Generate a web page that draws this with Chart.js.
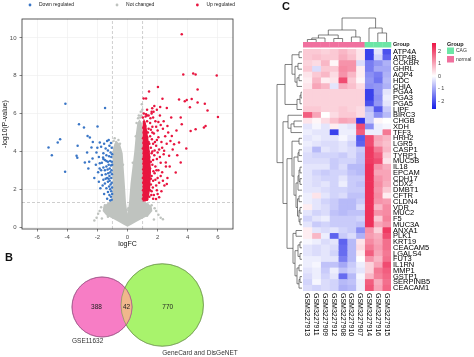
<!DOCTYPE html>
<html><head><meta charset="utf-8">
<script src="https://cdn.jsdelivr.net/npm/chart.js@4.4.0/dist/chart.umd.min.js"></script>
<style>
html,body{margin:0;padding:0;background:#fff;width:474px;height:357px;overflow:hidden;position:relative;}
canvas{position:absolute;}
#cA{left:0;top:0;width:242px;height:252px;}
#cB{left:0;top:250px;width:258px;height:107px;}
#cC{left:260px;top:0;width:214px;height:357px;}
</style></head><body>
<canvas id="cA" width="242" height="252"></canvas>
<canvas id="cB" width="258" height="107"></canvas>
<canvas id="cC" width="214" height="357"></canvas>
<script>
// ================= DATA =================
// Panel A: volcano plot  [logFC, -log10(P-value)]
const volcanoLegend = ['Down regulated', 'Not changed', 'Up regulated'];
const xTickVals = [-6, -4, -2, 0, 2, 4, 6];
const yTickVals = [0, 2, 4, 6, 8, 10];
const fcCut = [-1, 1];
const pCut = 1.3;
const downPts = [
 [-4.12,6.52],[-1.49,6.3],[-3.22,5.44],[-2.89,5.26],[-1.99,5.32],[-2.65,4.82],[-2.5,4.73],[-4.47,4.65],
 [-4.63,4.47],[-5.24,4.21],[-5.02,3.8],[-4.14,2.93],[-3.31,4.3],[-3.38,3.77],[-3.33,3.67],[-2.68,3.95],
 [-2.39,4.21],[-1.84,4.47],[-2.32,3.63],[-2.83,3.42],[-2.54,3.45],[-2.06,3.95],[-1.62,3.68],[-1.84,3.38],
 [-1.05,1.45],[-1.1,1.6],[-1.02,1.75],[-1.2,1.7],[-1.08,1.9],[-1.15,2.0],[-1.3,1.85],[-1.03,2.1],
 [-1.12,2.25],[-1.22,2.15],[-1.4,2.05],[-1.05,2.35],[-1.18,2.45],[-1.3,2.4],[-1.5,2.3],[-1.08,2.6],
 [-1.2,2.7],[-1.35,2.6],[-1.6,2.5],[-1.03,2.8],[-1.14,2.9],[-1.28,2.85],[-1.45,2.8],[-1.7,2.75],
 [-1.06,3.0],[-1.18,3.1],[-1.32,3.05],[-1.5,3.0],[-1.1,3.25],[-1.25,3.3],[-1.4,3.2],[-1.6,3.15],
 [-1.85,3.1],[-1.04,3.45],[-1.15,3.5],[-1.3,3.45],[-1.5,3.55],[-1.7,3.4],[-1.08,3.7],[-1.22,3.75],
 [-1.4,3.8],[-1.6,3.9],[-1.12,3.95],[-1.3,4.05],[-1.05,4.2],[-1.2,4.3],[-1.45,4.15],[-1.75,4.25],
 [-1.9,3.7],[-1.95,2.9],[-1.65,2.2],[-1.35,1.5],[-1.55,1.75],[-1.8,2.05],[-2.1,3.3],[-2.2,2.6],
 [-1.02,3.85],[-1.1,4.45],[-1.35,4.55],[-2.0,4.2],[-1.15,1.4],[-1.25,2.55],[-1.02,3.3],[-1.4,3.5],
 [-1.6,3.6],[-1.75,3.0],[-1.45,2.55],[-1.9,2.4],[-1.25,4.6],[-2.3,4.5],[-2.6,3.1],[-1.55,4.4]
];
const upPts = [
 [3.6,10.19],[3.7,8.07],[4.36,8.12],[4.52,8.07],[5.92,8.01],[4.65,7.28],[2.02,7.4],[1.43,7.17],
 [2.32,6.79],[1.07,6.8],[1.23,6.8],[3.42,6.75],[3.8,6.65],[3.93,6.72],[4.26,6.77],[4.65,6.59],
 [5.13,6.52],[4.14,6.33],[5.31,6.17],[2.17,6.35],[2.61,6.3],[1.64,6.28],[1.73,6.1],[1.6,6.0],
 [3.53,5.79],[6.0,5.82],[1.23,5.96],[1.3,5.9],[3.09,4.38],[3.42,4.47],[4.19,5.08],[4.52,5.17],
 [5.07,5.26],[5.18,5.35],[3.9,4.16],[3.53,3.42],[3.2,2.89],[2.61,2.28],[2.1,1.58],[1.89,1.49],
 [2.76,3.77],[2.54,3.42],[2.43,4.03],[2.94,4.82],[2.65,5.35],[3.6,5.44],
 [1.02,1.5],[1.05,1.7],[1.1,1.55],[1.15,1.8],[1.03,1.95],[1.2,2.0],[1.08,2.15],[1.25,2.2],
 [1.04,2.35],[1.14,2.45],[1.3,2.4],[1.02,2.6],[1.18,2.65],[1.35,2.7],[1.07,2.85],[1.22,2.9],
 [1.4,2.95],[1.04,3.05],[1.15,3.15],[1.3,3.2],[1.5,3.1],[1.06,3.35],[1.2,3.4],[1.38,3.45],
 [1.03,3.6],[1.12,3.7],[1.28,3.65],[1.45,3.7],[1.08,3.9],[1.22,3.95],[1.4,4.0],[1.02,4.15],
 [1.15,4.2],[1.32,4.25],[1.55,4.2],[1.06,4.45],[1.2,4.5],[1.4,4.5],[1.03,4.7],[1.15,4.8],
 [1.3,4.75],[1.5,4.8],[1.08,5.0],[1.25,5.05],[1.05,5.25],[1.18,5.35],[1.4,5.2],[1.1,5.55],
 [1.3,5.6],[1.02,5.8],[1.2,5.85],[1.5,5.5],[1.65,5.3],
 [1.45,1.6],[1.6,1.9],[1.75,1.7],[1.55,2.25],[1.7,2.45],[1.9,2.2],[1.6,2.7],[1.8,2.85],
 [2.0,2.6],[1.65,3.3],[1.85,3.2],[2.05,3.0],[1.7,3.55],[1.95,3.6],[2.2,3.4],[1.6,3.9],
 [1.8,4.05],[2.1,4.1],[1.7,4.4],[1.95,4.6],[2.25,4.5],[1.75,4.95],[2.0,5.1],[1.85,5.6],
 [2.2,5.4],[1.3,1.45],[1.5,1.95],[1.35,2.05],[1.55,2.55],[1.45,3.0],[1.55,3.45],[1.65,4.0],
 [1.25,4.0],[1.45,4.4],[1.62,4.65],[1.35,5.0],[1.55,5.15],[1.7,5.8],[1.4,5.9],[1.9,4.3],
 [2.4,3.85],[2.3,2.9],[2.5,4.8],[2.35,5.2],[2.15,5.9],[1.6,6.1],[1.95,6.2],[2.7,5.0],
 [3.0,4.1],[2.8,3.2],[2.45,2.2],[2.25,1.9],[1.7,1.5],[2.0,1.75],[1.08,6.0],[1.3,6.2],
 [1.58,1.7],[1.68,2.1],[1.85,2.5],[2.1,2.35],[1.72,2.95],[1.92,3.0],[2.15,3.7],[1.78,3.8],
 [2.0,3.95],[2.3,4.2],[1.82,4.5],[2.05,4.75],[1.65,5.0],[1.9,5.3],[2.4,5.6],[2.6,4.4],
 [2.55,3.2],[2.2,2.7],[1.95,1.95],[2.35,2.45],[1.52,5.75],[1.78,6.4],[2.05,5.55],[2.85,4.55],
 [3.25,5.1],[2.9,5.8],[3.3,3.8],[2.65,2.6]
];
const ncPts = [
 [0.88,6.1],[0.95,6.5],[0.92,5.9],[0.98,6.2],[-0.92,4.55],[-0.85,4.7],[-0.6,4.6],[0.75,5.9],
 [0.6,5.5],[-0.98,1.2],[-1.25,1.22],[-1.5,1.15],[-1.75,1.05],[-1.85,0.85],[-1.95,0.7],[-2.05,0.5],
 [-1.7,0.45],[1.1,1.25],[1.35,1.2],[1.6,1.15],[1.8,1.0],[1.9,0.85],[2.05,0.65],[2.2,0.5],
 [1.75,0.4],[-0.3,3.3],[0.35,3.4],[-0.5,4.4],[0.55,4.8],[-0.05,0.9],[0.06,1.0],[-2.2,0.35],
 [2.35,0.42],[-1.3,0.55],[1.3,0.6],[0.7,5.75],[0.85,5.8],[-0.75,4.5]
];
// outline of the dense clouds of points
const ncArea = [
 [0,0.02],[-0.25,0.12],[-0.6,0.28],[-1.0,0.45],[-1.4,0.62],[-1.65,0.85],[-1.6,1.1],[-1.3,1.28],
 [-1.02,1.4],[-0.99,2.4],[-0.99,3.5],[-0.97,4.15],[-0.85,4.45],[-0.65,4.5],[-0.48,4.35],[-0.32,3.9],
 [-0.18,2.3],[-0.1,1.3],[0,0.7],[0.1,1.3],[0.2,2.3],[0.45,4.0],[0.55,4.9],[0.65,5.5],[0.8,5.7],
 [0.95,5.5],[0.99,4.6],[0.99,3.4],[0.99,2.2],[1.02,1.4],[1.3,1.28],[1.6,1.1],[1.65,0.85],
 [1.4,0.62],[1.0,0.45],[0.6,0.28],[0.25,0.12],[0,0.02]
];
const upArea = [
 [1.0,1.35],[1.0,5.4],[1.08,5.75],[1.22,5.5],[1.38,4.7],[1.5,3.8],[1.56,2.9],[1.5,2.0],[1.38,1.45],[1.2,1.35]
];

// Panel B: Venn diagram
const vennSets = ['GSE11632', 'GeneCard and DisGeNET'];
const vennCounts = [388, 42, 770];   // only set 1, both, only set 2

// Panel C: heatmap
const genes = ['ATP4A','ATP4B','CCKBR','GHRL','AQP4','HDC','CHIA','PGA4','PGA3','PGA5','LIPF','BIRC3',
 'CHGB','XDH','TFF3','HRH2','LGR5','CASP1','TYRP1','MUC5B','IL18','EPCAM','CDH17','CDX2','DMBT1','CFTR',
 'CLDN4','VDR','MUC2','F5','MUC3A','ANXA1','PLK1','KRT19','CEACAM5','LGALS4','FUT3','IL1RN','MMP1',
 'GSTP1','SERPINB5','CEACAM1'];
const samples = ['GSM3227913','GSM3227911','GSM3227909','GSM3227912','GSM3227908','GSM3227910',
 'GSM3227907','GSM3227914','GSM3227916','GSM3227915'];
const sampleGroup = ['normal','normal','normal','normal','normal','normal','normal','CAG','CAG','CAG'];
const groupNames = ['CAG', 'normal'];
const legendTicks = [2, 1, 0, -1, -2];
const zRows = [
 [0.6,0.6,0.5,0.6,0.8,0.6,0.3,-2.2,-0.3,-2.0],
 [0.6,0.7,0.6,0.6,0.9,0.7,0.3,-2.2,-0.5,-1.8],
 [0.5,0.4,0.8,0.1,1.2,1.2,-0.4,-1.5,-1.2,-0.9],
 [0.6,-0.4,0.6,0.6,1.3,1.2,0.2,-1.5,-1.0,-1.0],
 [0.3,0.6,0.8,0.4,1.2,0.8,0.2,-1.3,-1.5,-0.9],
 [0.2,0.8,0.2,0.3,2.0,0.6,0.1,-1.2,-1.6,-0.8],
 [0.3,1.0,0.8,-0.3,0.9,0.7,0.4,-1.3,-1.2,-0.9],
 [0.5,0.5,0.5,0.5,0.5,0.5,0.5,-2.2,-1.2,-0.3],
 [0.5,0.5,0.5,0.5,0.5,0.5,0.5,-2.2,-1.3,-0.2],
 [0.5,0.5,0.5,0.5,0.5,0.5,0.5,-2.0,-1.2,-0.3],
 [0.6,0.6,0.5,0.5,0.6,0.5,0.4,-0.8,-1.9,-0.6],
 [1.8,1.0,0.0,0.4,0.6,0.6,0.4,-0.6,-1.3,-0.8],
 [0.3,0.1,0.4,0.7,1.0,0.9,-2.3,-0.6,0.1,0.0],
 [-0.3,-0.1,-0.3,0.2,-0.2,-0.3,2.0,-1.3,-0.2,-0.1],
 [-0.2,-0.3,-0.3,-2.2,-0.2,-0.2,1.8,-0.2,-0.2,1.5],
 [-0.3,-0.2,-0.3,-0.3,-0.1,-0.3,-1.9,2.0,1.0,0.8],
 [-0.2,-0.3,-0.4,-0.4,-0.3,-0.5,-1.8,2.0,0.9,0.7],
 [-0.3,-0.8,-0.3,-0.4,-0.3,-0.4,-0.6,2.2,1.5,0.8],
 [-0.4,-0.5,-0.5,-0.5,-0.6,-0.4,-0.7,2.2,1.8,0.5],
 [-0.4,-0.4,-0.4,-0.6,-0.5,-0.5,-0.7,2.2,2.0,0.3],
 [-0.3,-0.3,-0.3,-0.6,-0.4,-0.8,-0.8,2.3,1.2,0.9],
 [-0.3,-0.5,-0.6,-0.5,-0.5,-0.7,-0.8,2.3,1.0,1.0],
 [-0.3,-0.4,-0.5,-0.5,-0.3,-0.6,-0.6,2.3,1.2,1.0],
 [-0.3,-0.4,-0.3,-0.5,-0.2,-0.6,-0.7,2.3,1.3,0.9],
 [-0.3,-0.3,-0.4,-0.5,-0.5,-0.6,-0.6,2.3,1.2,0.6],
 [-0.2,0.3,-0.3,-0.5,-0.4,-0.7,-0.7,2.3,1.3,0.2],
 [-0.2,-0.3,-0.5,-0.6,-0.8,-0.8,-0.6,2.3,1.2,1.1],
 [0.2,-0.3,-0.4,-0.6,-0.8,-0.8,-0.4,2.3,0.8,1.3],
 [-0.3,-0.5,-0.4,-0.7,-0.8,-0.7,-0.7,2.3,1.2,1.3],
 [-0.5,-0.3,-0.2,-0.6,-0.6,-0.6,-0.5,2.3,0.6,1.4],
 [-0.3,-0.6,-0.5,-0.6,-0.6,-0.6,-0.7,2.3,1.0,1.2],
 [0.2,-0.3,-0.4,-0.3,-0.5,-0.6,-1.3,1.2,0.5,2.2],
 [0.2,0.8,-0.2,-1.8,-0.6,-0.4,-0.9,1.1,0.9,2.0],
 [-0.1,-0.2,-0.4,-0.3,-1.8,-0.8,0.3,1.3,1.0,1.6],
 [-0.3,-0.4,-0.3,-0.4,-1.7,-0.8,0.4,1.5,1.1,1.6],
 [-0.3,-0.4,-0.3,-0.5,-1.7,-0.8,0.2,1.8,1.0,1.5],
 [-0.2,-0.2,-0.3,-0.3,-1.5,-0.8,0.0,1.2,0.8,1.6],
 [-0.2,-0.1,-0.7,-0.7,-1.0,-0.6,-0.2,0.5,1.0,2.0],
 [-0.3,-0.2,-0.6,-0.2,-0.7,-0.5,-0.3,0.5,1.5,1.8],
 [-0.4,-0.2,-0.5,-0.3,-1.7,-0.8,-0.1,0.8,1.4,1.7],
 [-0.5,-0.1,-0.4,-0.5,-0.8,-0.7,-0.2,1.8,0.9,1.6],
 [-0.4,-0.5,-0.4,-0.5,-0.9,-0.8,-0.2,1.9,1.0,1.7]
];
// hclust-style merges (negative = leaf, positive = earlier merge) and heights
const colMerge  = [[-1,-2],[1,-3],[-4,-5],[2,3],[-6,-7],[4,5],[-9,-10],[-8,7],[6,8]];
const colHeight = [2.5, 4, 3.5, 7, 5, 12, 9, 14, 24];
const rowMerge = [[-1,-2],[-3,-4],[-5,-6],[3,-7],[2,4],[1,5],[-8,-9],[7,-10],[8,-11],[6,9],
 [-13,-14],[11,-15],[-12,12],[-16,-17],[-18,-19],[15,-20],[-21,-22],[-23,-24],[17,18],[19,-25],
 [-26,-27],[-28,-29],[-30,-31],[22,23],[21,24],[20,25],[16,26],[14,27],[-32,-33],[-34,-35],
 [-36,-37],[30,31],[-38,-39],[-40,-41],[34,-42],[33,35],[32,36],[29,37],[28,38],[13,39],[10,40]];
const rowHeight = [3,4,3,5,7,10,1,2,5,17, 8,11,14,3,3,4,2,2,3,4, 3,2,2,3,4.5,6,8,10,6,2,
 2,4,3,2,3,5,7,9,15,19,25];

// ================= STYLE / RENDER =================
const FONT = "'Liberation Sans', Arial, Helvetica, sans-serif";
Chart.defaults.font.family = FONT;
Chart.defaults.animation = false;
const COL = {down:'#3a76c6', nc:'#bfc3bf', up:'#e8153f'};
const legendCols = [COL.down, COL.nc, COL.up];
const X_RANGE = [-7, 7], Y_RANGE = [-0.1, 11];
const toXY = a => a.map(p => ({x: p[0], y: p[1]}));

function fillPoly(chart, pts, color) {
  const {ctx, chartArea: ca, scales: {x, y}} = chart;
  ctx.save();
  ctx.beginPath(); ctx.rect(ca.left, ca.top, ca.right - ca.left, ca.bottom - ca.top); ctx.clip();
  ctx.beginPath();
  pts.forEach((p, i) => { const px = x.getPixelForValue(p[0]), py = y.getPixelForValue(p[1]);
    i ? ctx.lineTo(px, py) : ctx.moveTo(px, py); });
  ctx.closePath(); ctx.fillStyle = color; ctx.fill();
  ctx.restore();
}

const volcanoPlugin = {
  id: 'volcanoExtras',
  beforeDatasetDraw(chart, args) {
    const ds = chart.data.datasets[args.index];
    if (ds.cloud) fillPoly(chart, ds.cloud, ds.backgroundColor);
  },
  afterDraw(chart) {
    const {ctx, chartArea: ca} = chart;
    ctx.save();
    ctx.strokeStyle = '#333'; ctx.lineWidth = 0.8;
    ctx.strokeRect(ca.left, ca.top, ca.right - ca.left, ca.bottom - ca.top);
    // legend
    ctx.font = '5px ' + FONT; ctx.textBaseline = 'middle';
    let xx = 30;
    volcanoLegend.forEach((t, i) => {
      ctx.fillStyle = legendCols[i];
      ctx.beginPath(); ctx.arc(xx, 5, 1.4, 0, Math.PI * 2); ctx.fill();
      ctx.fillStyle = '#222'; ctx.fillText(t, xx + 9, 5);
      xx += 9 + ctx.measureText(t).width + 43;
    });
    ctx.restore();
  }
};

const ptStyle = c => ({backgroundColor: c, borderWidth: 0, pointRadius: 1.25, pointHoverRadius: 1.25, showLine: false});
const refLine = d => ({type: 'line', data: d, borderColor: '#9c9c9c', borderWidth: 0.5, borderDash: [3, 2],
  pointRadius: 0, fill: false, showLine: true});

new Chart(document.getElementById('cA'), {
  type: 'scatter',
  data: {datasets: [
    Object.assign({label: volcanoLegend[2], data: toXY(upPts), cloud: upArea}, ptStyle(COL.up)),
    Object.assign({label: volcanoLegend[0], data: toXY(downPts)}, ptStyle(COL.down)),
    Object.assign({label: volcanoLegend[1], data: toXY(ncPts), cloud: ncArea}, ptStyle(COL.nc)),
    ...fcCut.map(v => refLine([{x: v, y: Y_RANGE[0]}, {x: v, y: Y_RANGE[1]}])),
    refLine([{x: X_RANGE[0], y: pCut}, {x: X_RANGE[1], y: pCut}])
  ]},
  options: {
    responsive: false, events: [],
    layout: {padding: {left: 0, right: 9, top: 19, bottom: 0}},
    plugins: {legend: {display: false}, tooltip: {enabled: false}},
    scales: {
      x: {type: 'linear', min: X_RANGE[0], max: X_RANGE[1],
        afterBuildTicks: s => { s.ticks = xTickVals.map(v => ({value: v})); },
        afterFit: s => { s.height = 23; },
        grid: {color: '#ececec', lineWidth: 0.6, tickLength: 2.5, tickColor: '#333', tickWidth: 0.6},
        border: {display: false},
        ticks: {font: {size: 6}, color: '#4d4d4d', padding: 2, maxRotation: 0},
        title: {display: true, text: 'logFC', font: {size: 7}, color: '#111', padding: {top: 0, bottom: 3.5}}},
      y: {type: 'linear', min: Y_RANGE[0], max: Y_RANGE[1],
        afterBuildTicks: s => { s.ticks = yTickVals.map(v => ({value: v})); },
        afterFit: s => { s.width = 22; },
        grid: {color: '#ececec', lineWidth: 0.6, tickLength: 2.5, tickColor: '#333', tickWidth: 0.6},
        border: {display: false},
        ticks: {font: {size: 6}, color: '#4d4d4d', padding: 3},
        title: {display: true, text: '-log10(P-value)', font: {size: 7}, color: '#111', padding: {top: 1, bottom: 0}}}
    }
  },
  plugins: [volcanoPlugin]
});

// ---------- Venn ----------
const VENN = {k: 1.447, cx: 102, cy: 57, overlap: 11, dy: -2, w: 258, h: 107};
const rA = VENN.k * Math.sqrt(vennCounts[0] + vennCounts[1]);
const rB = VENN.k * Math.sqrt(vennCounts[1] + vennCounts[2]);
const cA = {x: VENN.cx, y: VENN.cy, r: rA};
const cB2 = {x: VENN.cx + rA + rB - VENN.overlap, y: VENN.cy + VENN.dy, r: rB};

const vennPlugin = {
  id: 'vennExtras',
  afterDatasetsDraw(chart) {
    const {ctx, scales: {x, y}} = chart;
    const P = c => ({x: x.getPixelForValue(c.x), y: y.getPixelForValue(c.y), r: c.r});
    const a = P(cA), b = P(cB2);
    const circ = c => { ctx.beginPath(); ctx.arc(c.x, c.y, c.r, 0, Math.PI * 2); };
    ctx.save();
    circ(a); ctx.clip(); circ(b); ctx.fillStyle = '#f0b78c'; ctx.fill();
    ctx.restore();
    ctx.save();
    ctx.lineWidth = 0.6;
    circ(a); ctx.strokeStyle = '#9c4f84'; ctx.stroke();
    circ(b); ctx.strokeStyle = '#6f9a4c'; ctx.stroke();
    ctx.fillStyle = '#222'; ctx.font = '6.5px ' + FONT; ctx.textAlign = 'center'; ctx.textBaseline = 'middle';
    const aL = a.x - a.r, aR = a.x + a.r, bL = b.x - b.r, bR = b.x + b.r;
    ctx.fillText(String(vennCounts[0]), (aL + bL) / 2, a.y);
    ctx.fillText(String(vennCounts[1]), (bL + aR) / 2, a.y);
    ctx.fillText(String(vennCounts[2]), (aR + bR) / 2, a.y);
    ctx.textAlign = 'left'; ctx.font = '6.5px ' + FONT; ctx.fillStyle = '#333';
    ctx.fillText(vennSets[0], aL, a.y + a.r + 4);
    ctx.fillText(vennSets[1], b.x, b.y + b.r + 7);
    ctx.font = 'bold 11px ' + FONT; ctx.fillStyle = '#111'; ctx.textAlign = 'left';
    ctx.fillText('B', 5, 8);
    ctx.restore();
  }
};

new Chart(document.getElementById('cB'), {
  type: 'bubble',
  data: {datasets: [
    {label: vennSets[0], data: [cA], backgroundColor: '#f77dc5', borderColor: '#9c4f84', borderWidth: 0.6},
    {label: vennSets[1], data: [cB2], backgroundColor: '#a8f36c', borderColor: '#6f9a4c', borderWidth: 0.6}
  ]},
  options: {
    responsive: false, events: [], clip: false,
    layout: {padding: 0, autoPadding: false},
    plugins: {legend: {display: false}, tooltip: {enabled: false}},
    scales: {x: {display: false, min: 0, max: VENN.w}, y: {display: false, min: 0, max: VENN.h, reverse: true}}
  },
  plugins: [vennPlugin]
});

// ---------- Heatmap ----------
const HI = [236, 22, 70], LO = [22, 30, 232], ZMAX = 2.6;
function heatColor(v) {
  const t = Math.max(-1, Math.min(1, v / ZMAX));
  const e = t < 0 ? LO : HI, a = Math.abs(t);
  const c = e.map(ch => Math.round(255 + (ch - 255) * a));
  return `rgb(${c[0]},${c[1]},${c[2]})`;
}
const groupColor = {CAG: '#6ce6a6', normal: '#f0709e'};

function dendro(merge, height) {
  const nodes = [];
  const get = id => id < 0 ? {leaf: -id - 1, h: 0} : nodes[id - 1];
  merge.forEach((m, k) => nodes.push({a: get(m[0]), b: get(m[1]), h: height[k]}));
  return nodes;
}
function nodePos(n, leafPx) {
  if (n.leaf !== undefined) return leafPx(n.leaf);
  if (n.p === undefined) n.p = (nodePos(n.a, leafPx) + nodePos(n.b, leafPx)) / 2;
  return n.p;
}

const heatPlugin = {
  id: 'heatExtras',
  afterDraw(chart) {
    const {ctx, chartArea: ca, scales: {x, y}} = chart;
    ctx.save();
    // group annotation bar
    const gTop = ca.top - 7, gH = 5.5;
    samples.forEach((s, j) => {
      const x0 = x.getPixelForValue(j), x1 = x.getPixelForValue(j + 1);
      ctx.fillStyle = groupColor[sampleGroup[j]];
      ctx.fillRect(x0, gTop, x1 - x0 + 0.3, gH);
    });
    ctx.fillStyle = '#111'; ctx.font = 'bold 5.5px ' + FONT; ctx.textBaseline = 'middle'; ctx.textAlign = 'left';
    ctx.fillText('Group', ca.right + 2, gTop + gH / 2);
    // dendrograms
    ctx.strokeStyle = '#4a4a4a'; ctx.lineWidth = 0.7;
    const cNodes = dendro(colMerge, colHeight);
    const cLeaf = i => x.getPixelForValue(i + 0.5);
    const cY = h => gTop - h;
    cNodes.forEach(n => {
      const pa = nodePos(n.a, cLeaf), pb = nodePos(n.b, cLeaf);
      ctx.beginPath();
      ctx.moveTo(pa, cY(n.a.h)); ctx.lineTo(pa, cY(n.h)); ctx.lineTo(pb, cY(n.h)); ctx.lineTo(pb, cY(n.b.h));
      ctx.stroke();
    });
    const rNodes = dendro(rowMerge, rowHeight);
    const rLeaf = i => y.getPixelForValue(i);
    const rX = h => ca.left - 1 - h;
    rNodes.forEach(n => {
      const pa = nodePos(n.a, rLeaf), pb = nodePos(n.b, rLeaf);
      ctx.beginPath();
      ctx.moveTo(rX(n.a.h), pa); ctx.lineTo(rX(n.h), pa); ctx.lineTo(rX(n.h), pb); ctx.lineTo(rX(n.b.h), pb);
      ctx.stroke();
    });
    // column labels (rotated, reading downwards)
    ctx.fillStyle = '#000'; ctx.font = '7px ' + FONT; ctx.textBaseline = 'middle'; ctx.textAlign = 'left';
    samples.forEach((s, j) => {
      ctx.save();
      ctx.translate(x.getPixelForValue(j + 0.5), ca.bottom + 2);
      ctx.rotate(Math.PI / 2);
      ctx.fillText(s, 0, 0);
      ctx.restore();
    });
    // colour key
    const kx = ca.right + 41, kTop = 43, kBot = 109, kMid = 76, kUnit = 12.5;
    const grad = ctx.createLinearGradient(0, kTop, 0, kBot);
    for (let i = 0; i <= 20; i++) {
      const v = (kMid - (kTop + (kBot - kTop) * i / 20)) / kUnit;
      grad.addColorStop(i / 20, heatColor(v));
    }
    ctx.fillStyle = grad; ctx.fillRect(kx, kTop, 4, kBot - kTop);
    ctx.fillStyle = '#444'; ctx.font = '5.5px ' + FONT;
    legendTicks.forEach(v => ctx.fillText(String(v).replace('-', '- '), kx + 6, kMid - v * kUnit));
    // group key
    const gx = kx + 15;
    ctx.fillStyle = '#111'; ctx.font = 'bold 5.5px ' + FONT;
    ctx.fillText('Group', gx, 44);
    ctx.font = '5px ' + FONT;
    groupNames.forEach((g, i) => {
      const yy = 47.5 + i * 8.5;
      ctx.fillStyle = groupColor[g]; ctx.fillRect(gx, yy, 7, 6.5);
      ctx.fillStyle = '#333'; ctx.fillText(g, gx + 9, yy + 3.3);
    });
    ctx.fillStyle = '#111'; ctx.font = 'bold 11px ' + FONT;
    ctx.fillText('C', 22, 7);
    ctx.restore();
  }
};

new Chart(document.getElementById('cC'), {
  type: 'bar',
  data: {
    labels: genes,
    datasets: samples.map((s, j) => ({
      label: s,
      data: genes.map(() => [j, j + 1]),
      backgroundColor: zRows.map(r => heatColor(r[j])),
      borderWidth: 0, barPercentage: 1, categoryPercentage: 1, grouped: false
    }))
  },
  options: {
    indexAxis: 'y', responsive: false, events: [],
    layout: {padding: {left: 43, top: 49, bottom: 66, right: 0}},
    plugins: {legend: {display: false}, tooltip: {enabled: false}},
    scales: {
      x: {type: 'linear', min: 0, max: samples.length, display: false},
      y: {type: 'category', position: 'right', offset: true,
        grid: {display: false, drawTicks: false}, border: {display: false},
        afterFit: s => { s.width = 83; },
        ticks: {autoSkip: false, padding: 2, font: {size: 7.5}, color: '#000'}}
    }
  },
  plugins: [heatPlugin]
});
</script></body></html>
